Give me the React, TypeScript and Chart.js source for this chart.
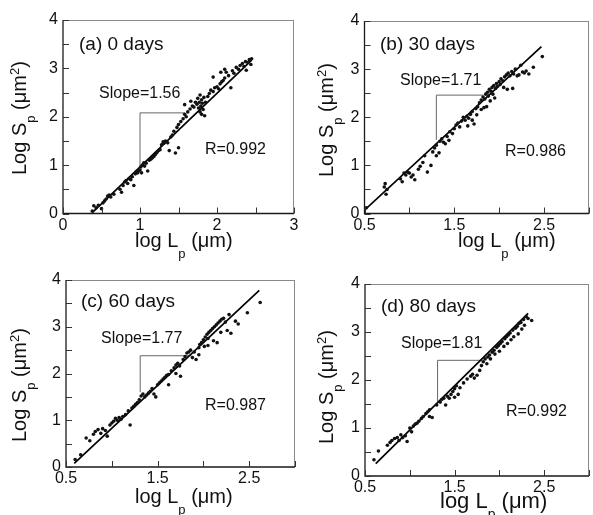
import React, { useEffect, useRef } from "react";
import { Chart, registerables } from "chart.js";

Chart.register(...registerables);

const W = 593;
const H = 515;
const FONT = "'Liberation Sans', Arial, Helvetica, sans-serif";

// ---------- data: (log Lp, log Sp) points ----------
const ptsA: number[][] = [
  [0.38, 0.05], [0.4, 0.16], [0.43, 0.12], [0.46, 0.17], [0.5, 0.1], [0.52, 0.22], [0.54, 0.26], [0.56, 0.3],
  [0.58, 0.36], [0.6, 0.38], [0.62, 0.34], [0.66, 0.4], [0.74, 0.5], [0.76, 0.44], [0.78, 0.58], [0.8, 0.65],
  [0.82, 0.68], [0.84, 0.62], [0.86, 0.72], [0.88, 0.7], [0.9, 0.76], [0.92, 0.58], [0.94, 0.82], [0.95, 0.86],
  [0.97, 0.84], [0.98, 0.88], [1.0, 0.9], [1.01, 0.96], [1.02, 0.84], [1.03, 1.0], [1.05, 1.05], [1.06, 0.98],
  [1.08, 1.04], [1.1, 0.88], [1.12, 1.1], [1.14, 1.12], [1.16, 1.15], [1.18, 1.18], [1.2, 1.22], [1.22, 1.26],
  [1.24, 1.3], [1.26, 1.32], [1.28, 1.42], [1.3, 1.48], [1.31, 1.45], [1.33, 1.5], [1.36, 1.46], [1.38, 1.3],
  [1.4, 1.58], [1.42, 1.62], [1.44, 1.7], [1.46, 1.25], [1.48, 1.78], [1.5, 1.36], [1.5, 1.84], [1.53, 1.9],
  [1.56, 1.96], [1.58, 2.05], [1.6, 2.0], [1.62, 2.1], [1.65, 2.16], [1.68, 2.22], [1.7, 2.2], [1.72, 2.3],
  [1.74, 2.26], [1.75, 2.38], [1.76, 2.18], [1.77, 2.3], [1.78, 2.45], [1.78, 2.1], [1.79, 2.22], [1.8, 2.35],
  [1.8, 2.05], [1.81, 2.28], [1.82, 2.15], [1.83, 2.4], [1.84, 2.02], [1.85, 2.3], [1.88, 2.42], [1.9, 2.48],
  [1.92, 2.55], [1.95, 2.52], [1.97, 2.6], [2.0, 2.62], [2.02, 2.58], [2.04, 2.68], [2.06, 2.72], [2.08, 2.75],
  [2.1, 2.8], [2.12, 2.92], [2.15, 2.85], [2.18, 2.6], [2.2, 2.95], [2.22, 2.9], [2.25, 3.02], [2.28, 2.98],
  [2.3, 3.06], [2.33, 3.1], [2.35, 3.04], [2.37, 3.14], [2.4, 3.12], [2.42, 3.18], [2.44, 3.08], [2.45, 3.2],
  [2.38, 2.96], [1.95, 2.82], [2.05, 2.92], [2.1, 2.98], [1.66, 2.32], [1.58, 2.25],
];
const ptsB: number[][] = [
  [0.52, 0.12], [0.72, 0.55], [0.73, 0.62], [0.75, 0.5], [0.74, 0.4], [0.9, 0.72], [0.92, 0.66], [0.94, 0.84],
  [0.96, 0.8], [0.98, 0.86], [1.0, 0.84], [1.02, 0.76], [1.04, 0.8], [1.06, 0.7], [1.1, 0.92], [1.12, 0.98],
  [1.15, 1.06], [1.17, 1.2], [1.2, 0.86], [1.24, 1.0], [1.26, 1.28], [1.28, 1.36], [1.3, 1.42], [1.3, 1.2],
  [1.33, 1.26], [1.34, 1.5], [1.36, 1.55], [1.38, 1.48], [1.4, 1.45], [1.42, 1.6], [1.44, 1.52], [1.45, 1.7],
  [1.48, 1.66], [1.5, 1.76], [1.52, 1.84], [1.54, 1.88], [1.56, 1.8], [1.58, 1.92], [1.6, 2.0], [1.62, 1.94],
  [1.64, 2.02], [1.66, 1.98], [1.68, 2.06], [1.7, 2.12], [1.7, 1.94], [1.72, 1.86], [1.74, 2.18], [1.76, 2.22],
  [1.78, 2.3], [1.8, 2.16], [1.8, 2.36], [1.82, 2.42], [1.84, 2.38], [1.85, 2.48], [1.86, 2.22], [1.87, 2.52],
  [1.88, 2.44], [1.89, 2.58], [1.9, 2.34], [1.91, 2.54], [1.92, 2.62], [1.93, 2.48], [1.94, 2.66], [1.95, 2.4],
  [1.96, 2.6], [1.97, 2.7], [1.98, 2.64], [2.0, 2.74], [2.01, 2.68], [2.02, 2.8], [2.04, 2.76], [2.05, 2.62],
  [2.06, 2.84], [2.08, 2.88], [2.09, 2.58], [2.1, 2.92], [2.12, 2.86], [2.14, 2.95], [2.15, 2.6], [2.16, 2.9],
  [2.18, 3.0], [2.2, 2.86], [2.22, 2.88], [2.24, 3.08], [2.26, 2.94], [2.28, 2.92], [2.3, 2.96], [2.33, 2.9],
  [2.38, 3.04], [2.48, 3.26], [1.65, 1.82], [1.75, 2.05], [1.83, 2.2],
];
const ptsC: number[][] = [
  [0.6, 0.16], [0.66, 0.26], [0.72, 0.62], [0.76, 0.56], [0.8, 0.7], [0.82, 0.76], [0.85, 0.8], [0.88, 0.72],
  [0.9, 0.82], [0.93, 0.78], [0.95, 0.66], [0.98, 0.9], [1.0, 0.94], [1.02, 0.98], [1.04, 1.04], [1.06, 1.0],
  [1.08, 1.06], [1.1, 1.02], [1.12, 1.08], [1.15, 1.12], [1.18, 1.2], [1.2, 0.9], [1.22, 1.26], [1.24, 1.3],
  [1.26, 1.34], [1.28, 1.38], [1.3, 1.44], [1.32, 1.52], [1.34, 1.56], [1.36, 1.5], [1.38, 1.54], [1.4, 1.58],
  [1.42, 1.62], [1.44, 1.68], [1.46, 1.56], [1.48, 1.5], [1.5, 1.76], [1.52, 1.8], [1.54, 1.84], [1.56, 1.88],
  [1.58, 1.92], [1.6, 1.96], [1.62, 1.98], [1.62, 1.76], [1.65, 2.06], [1.68, 2.12], [1.7, 2.18], [1.72, 2.22],
  [1.74, 2.16], [1.75, 1.94], [1.78, 2.3], [1.8, 2.36], [1.82, 2.44], [1.84, 2.46], [1.86, 2.5], [1.88, 2.34],
  [1.9, 2.46], [1.92, 2.3], [1.95, 2.4], [1.96, 2.62], [1.98, 2.66], [2.0, 2.72], [2.01, 2.58], [2.02, 2.78],
  [2.04, 2.84], [2.05, 2.6], [2.06, 2.88], [2.08, 2.92], [2.1, 2.96], [2.11, 2.7], [2.12, 3.0], [2.14, 3.04],
  [2.15, 2.66], [2.16, 3.08], [2.18, 3.12], [2.19, 2.88], [2.2, 3.16], [2.22, 3.18], [2.24, 3.1], [2.26, 2.92],
  [2.28, 3.26], [2.3, 2.86], [2.35, 3.12], [2.38, 3.06], [2.48, 3.3], [2.62, 3.52], [1.95, 2.55], [2.05, 2.75],
  [1.7, 2.0],
];
const ptsD: number[][] = [
  [0.6, 0.34], [0.65, 0.52], [0.75, 0.64], [0.78, 0.7], [0.8, 0.74], [0.83, 0.78], [0.86, 0.8], [0.88, 0.74],
  [0.9, 0.86], [0.92, 0.8], [0.95, 0.84], [0.97, 0.72], [1.0, 1.0], [1.02, 0.92], [1.04, 1.04], [1.06, 1.08],
  [1.08, 1.1], [1.1, 1.14], [1.13, 1.2], [1.15, 1.24], [1.18, 1.3], [1.2, 1.34], [1.22, 1.38], [1.22, 1.24],
  [1.25, 1.22], [1.3, 1.48], [1.34, 1.54], [1.36, 1.6], [1.38, 1.62], [1.4, 1.48], [1.42, 1.66], [1.44, 1.62],
  [1.46, 1.7], [1.48, 1.76], [1.5, 1.82], [1.5, 1.64], [1.52, 1.88], [1.54, 1.7], [1.56, 1.84], [1.6, 1.94],
  [1.64, 2.02], [1.68, 2.08], [1.7, 2.12], [1.72, 2.04], [1.75, 2.1], [1.78, 2.2], [1.8, 2.3], [1.82, 2.38],
  [1.84, 2.44], [1.86, 2.34], [1.87, 2.48], [1.89, 2.52], [1.9, 2.44], [1.92, 2.58], [1.94, 2.62], [1.95, 2.54],
  [1.97, 2.68], [1.99, 2.72], [2.0, 2.6], [2.01, 2.76], [2.03, 2.8], [2.05, 2.7], [2.06, 2.86], [2.08, 2.9],
  [2.09, 2.76], [2.1, 2.94], [2.12, 2.98], [2.13, 2.84], [2.15, 3.04], [2.16, 2.9], [2.18, 3.08], [2.2, 3.12],
  [2.21, 2.96], [2.22, 3.18], [2.24, 3.2], [2.25, 3.06], [2.27, 3.26], [2.3, 3.32], [2.32, 3.28], [2.36, 3.24],
  [2.28, 3.14],
];

// fitted regression lines (end points)
const fitA = [[0.38, 0.02], [2.45, 3.17]];
const fitB = [[0.5, 0.07], [2.47, 3.47]];
const fitC = [[0.59, 0.08], [2.61, 3.78]];
const fitD = [[0.62, 0.26], [2.32, 3.39]];

// slope triangles (bottom of riser, corner, end of run)
const triA = [[1.0, 0.98], [1.0, 2.08], [1.58, 2.08]];
const triB = [[1.3, 1.53], [1.3, 2.46], [1.82, 2.46]];
const triC = [[1.31, 1.6], [1.31, 2.38], [1.87, 2.38]];
const triD = [[1.31, 1.55], [1.31, 2.41], [1.81, 2.41]];

// panel texts
const panelTitles = ["(a) 0 days", "(b) 30 days", "(c) 60 days", "(d) 80 days"];
const slopeTexts = ["Slope=1.56", "Slope=1.71", "Slope=1.77", "Slope=1.81"];
const rTexts = ["R=0.992", "R=0.986", "R=0.987", "R=0.992"];

// tick values / labels
const yTicks = [0, 0.5, 1, 1.5, 2, 2.5, 3, 3.5, 4];
const yLabelled = [0, 1, 2, 3, 4];
const xTicksA = [0, 0.5, 1, 1.5, 2, 2.5, 3];
const xLabelledA = [0, 1, 2, 3];
const xTicksB = [0.5, 1, 1.5, 2, 2.5, 3];
const xLabelledB = [0.5, 1.5, 2.5];

// ---------- layout (page pixels) ----------
type Layout = {
  area: { l: number; t: number; r: number; b: number };
  xMin: number;
  xMax: number;
  titlePos: number[];
  slopePos: number[];
  rPos: number[];
  yTitle: number[]; // baseline x, start y (bottom)
  xTitle: number[]; // start x, baseline y
  xTitleSize: number;
};

const layouts: Layout[] = [
  { area: { l: 63, t: 20, r: 294, b: 213.5 }, xMin: 0, xMax: 3, titlePos: [79, 43], slopePos: [99, 92], rPos: [205, 148], yTitle: [26, 175], xTitle: [135, 247], xTitleSize: 20 },
  { area: { l: 364.5, t: 21, r: 593, b: 213.5 }, xMin: 0.5, xMax: 3, titlePos: [380, 43], slopePos: [400, 79], rPos: [505, 150], yTitle: [333, 177], xTitle: [458, 247], xTitleSize: 20 },
  { area: { l: 66, t: 280, r: 295, b: 467 }, xMin: 0.5, xMax: 3, titlePos: [81, 300], slopePos: [101, 337], rPos: [205, 404], yTitle: [26, 442], xTitle: [135, 503], xTitleSize: 20 },
  { area: { l: 365, t: 284, r: 593, b: 476 }, xMin: 0.5, xMax: 3, titlePos: [381, 305], slopePos: [401, 342], rPos: [506, 410], yTitle: [333, 444], xTitle: [440, 508], xTitleSize: 22 },
];

const panelData = [
  { pts: ptsA, fit: fitA, tri: triA, xTicks: xTicksA, xLab: xLabelledA },
  { pts: ptsB, fit: fitB, tri: triB, xTicks: xTicksB, xLab: xLabelledB },
  { pts: ptsC, fit: fitC, tri: triC, xTicks: xTicksB, xLab: xLabelledB },
  { pts: ptsD, fit: fitD, tri: triD, xTicks: xTicksB, xLab: xLabelledB },
];

type Part = { t: string; size: number; dy?: number };

function drawParts(ctx: CanvasRenderingContext2D, parts: Part[], x: number, y: number) {
  let cx = x;
  for (const p of parts) {
    ctx.font = `${p.size}px ${FONT}`;
    ctx.fillText(p.t, cx, y + (p.dy || 0));
    cx += ctx.measureText(p.t).width;
  }
}

const Y_AXIS_W = 40;
const X_AXIS_H = 30;

function Panel({ idx }: { idx: number }) {
  const ref = useRef<HTMLCanvasElement | null>(null);
  useEffect(() => {
    const L = layouts[idx];
    const D = panelData[idx];
    const a = L.area;
    const deco = {
      id: "deco" + idx,
      afterDatasetsDraw(chart: any) {
        const ctx: CanvasRenderingContext2D = chart.ctx;
        const xs = chart.scales.x;
        const ys = chart.scales.y;
        const ca = chart.chartArea;
        ctx.save();
        // frame
        ctx.lineWidth = 1;
        ctx.strokeStyle = "#8a8a8a";
        ctx.beginPath();
        ctx.moveTo(ca.left, ca.top + 0.5);
        ctx.lineTo(ca.right, ca.top + 0.5);
        ctx.moveTo(ca.right - 0.5, ca.top);
        ctx.lineTo(ca.right - 0.5, ca.bottom);
        ctx.stroke();
        ctx.strokeStyle = "#1a1a1a";
        ctx.lineWidth = 1.3;
        ctx.beginPath();
        ctx.moveTo(ca.left, ca.top);
        ctx.lineTo(ca.left, ca.bottom);
        ctx.lineTo(ca.right, ca.bottom);
        ctx.stroke();
        // inward ticks
        ctx.lineWidth = 1;
        ctx.strokeStyle = "#333";
        ctx.beginPath();
        for (const v of yTicks) {
          const py = Math.round(ys.getPixelForValue(v)) + 0.5;
          ctx.moveTo(ca.left, py);
          ctx.lineTo(ca.left + 6, py);
        }
        for (const v of D.xTicks) {
          const px = Math.round(xs.getPixelForValue(v)) + 0.5;
          ctx.moveTo(px, ca.bottom);
          ctx.lineTo(px, ca.bottom - 6);
        }
        ctx.stroke();
        // texts
        ctx.fillStyle = "#111";
        ctx.textBaseline = "alphabetic";
        ctx.textAlign = "left";
        ctx.font = `19px ${FONT}`;
        ctx.fillText(panelTitles[idx], L.titlePos[0], L.titlePos[1] + 7);
        ctx.font = `16px ${FONT}`;
        ctx.fillText(slopeTexts[idx], L.slopePos[0], L.slopePos[1] + 6);
        ctx.fillText(rTexts[idx], L.rPos[0], L.rPos[1] + 6);
        // x title
        const xs0 = L.xTitleSize;
        drawParts(
          ctx,
          [
            { t: "log L", size: xs0 },
            { t: "p", size: Math.round(xs0 * 0.65), dy: 11 },
            { t: " (\u03bcm)", size: xs0 },
          ],
          L.xTitle[0],
          L.xTitle[1]
        );
        // y title
        ctx.translate(L.yTitle[0], L.yTitle[1]);
        ctx.rotate(-Math.PI / 2);
        drawParts(
          ctx,
          [
            { t: "Log S", size: 20 },
            { t: "p", size: 13, dy: 9 },
            { t: " (\u03bcm", size: 20 },
            { t: "2", size: 13, dy: -7 },
            { t: ")", size: 20 },
          ],
          0,
          0
        );
        ctx.restore();
      },
    };
    const chart = new Chart(ref.current as HTMLCanvasElement, {
      type: "scatter",
      data: {
        datasets: [
          {
            data: D.pts.map((p) => ({ x: p[0], y: p[1] })),
            pointRadius: 1.8,
            pointBackgroundColor: "#111",
            pointBorderWidth: 0,
            showLine: false,
          },
          {
            data: D.fit.map((p) => ({ x: p[0], y: p[1] })),
            showLine: true,
            borderColor: "#000",
            borderWidth: 1.7,
            pointRadius: 0,
          },
          {
            data: D.tri.map((p) => ({ x: p[0], y: p[1] })),
            showLine: true,
            borderColor: "#666",
            borderWidth: 1,
            pointRadius: 0,
          },
        ],
      },
      options: {
        responsive: false,
        animation: false,
        events: [],
        layout: {
          padding: {
            left: a.l - Y_AXIS_W,
            top: a.t,
            right: W - a.r,
            bottom: H - a.b - X_AXIS_H,
          },
        },
        plugins: { legend: { display: false }, tooltip: { enabled: false }, title: { display: false } },
        scales: {
          x: {
            type: "linear",
            min: L.xMin,
            max: L.xMax,
            afterFit: (s: any) => {
              s.height = X_AXIS_H;
            },
            afterBuildTicks: (s: any) => {
              s.ticks = D.xTicks.map((v) => ({ value: v }));
            },
            grid: { display: false, drawTicks: false },
            border: { display: false },
            ticks: {
              autoSkip: false,
              maxRotation: 0,
              padding: 2,
              color: "#111",
              font: { family: FONT, size: 16 },
              callback: (v: any) => (D.xLab.includes(Number(v)) ? String(v) : ""),
            },
          },
          y: {
            type: "linear",
            min: 0,
            max: 4,
            afterFit: (s: any) => {
              s.width = Y_AXIS_W;
            },
            afterBuildTicks: (s: any) => {
              s.ticks = yTicks.map((v) => ({ value: v }));
            },
            grid: { display: false, drawTicks: false },
            border: { display: false },
            ticks: {
              autoSkip: false,
              padding: 5,
              color: "#111",
              font: { family: FONT, size: 16 },
              callback: (v: any) => (yLabelled.includes(Number(v)) ? String(v) : ""),
            },
          },
        },
      },
      plugins: [deco],
    } as any);
    return () => chart.destroy();
  }, [idx]);
  return (
    <canvas
      ref={ref}
      width={W}
      height={H}
      style={{ position: "absolute", left: 0, top: 0, width: W, height: H }}
    />
  );
}

export default function App() {
  return (
    <div
      style={{
        position: "fixed",
        left: 0,
        top: 0,
        width: W,
        height: H,
        overflow: "hidden",
        background: "#fff",
      }}
    >
      {[0, 1, 2, 3].map((i) => (
        <Panel key={i} idx={i} />
      ))}
    </div>
  );
}
